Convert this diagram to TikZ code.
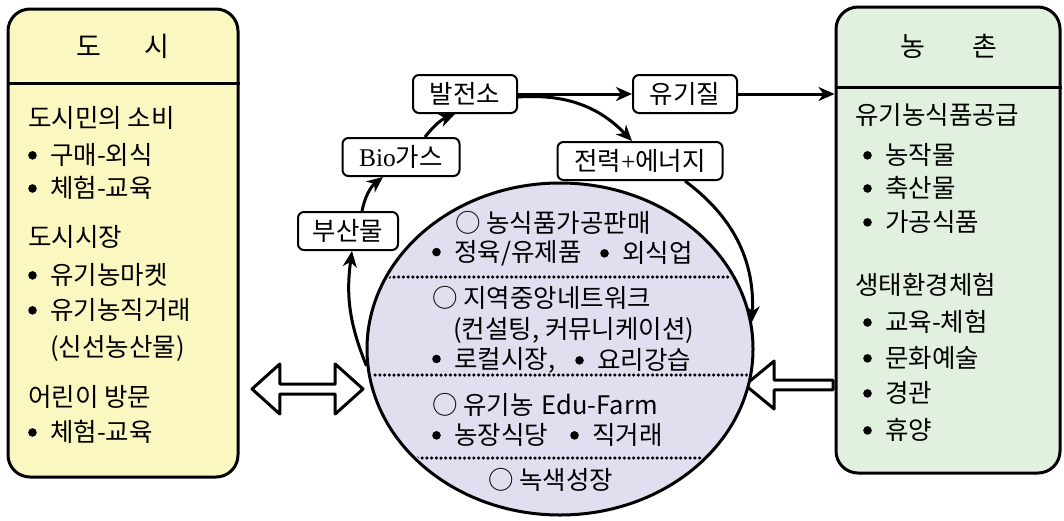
\documentclass[tikz,border=0pt]{standalone}
\usepackage{fontspec}
\setmainfont{Noto Sans CJK KR}
\newfontfamily\latin{Liberation Serif}
\usetikzlibrary{arrows.meta,shapes.geometric,shapes.arrows}

\definecolor{cityfill}{RGB}{250,247,192}
\definecolor{farmfill}{RGB}{226,241,223}
\definecolor{hubfill}{RGB}{223,223,240}
\newcommand\bodysize{\fontsize{25.5}{30}\selectfont}
\newcommand\headsize{\fontsize{27}{32}\selectfont}
\newcommand\dotitem{\makebox[22pt][l]{\tikz[baseline=-0.36em]\fill (0pt,0pt) circle (4.3pt);}}

\begin{document}
\begin{tikzpicture}[x=1pt,y=-1pt,font=\bodysize,
    panel/.style={draw,line width=3pt,rounded corners=22pt,inner sep=0pt},
    stepbox/.style={draw,line width=2pt,rounded corners=6pt,fill=white,
      minimum height=38pt,inner xsep=4pt,inner ysep=0pt},
    item/.style={anchor=west,inner sep=0pt},
    flow/.style={line width=3pt,-{Stealth[length=16pt,width=14pt,inset=5pt]}},
    hollow/.style={draw,line width=3pt,inner sep=0pt,line join=round},
    sep/.style={line width=3.5pt,dash pattern=on 0pt off 4.7pt,line cap=round}]
  \useasboundingbox (0,0) rectangle (1064,520);

  % city panel
  \node[panel,fill=cityfill,minimum width=230pt,minimum height=468pt] (city) at (123,243) {};
  \coordinate (cityline) at (0,83);
  \draw[line width=3pt] (city.west |- cityline) -- (city.east |- cityline);
  \node[font=\headsize] (cityhead) at (123,46) {도\hspace{44pt}시};
  \node[item] (c1) at (28,118) {도시민의 소비};
  \node[item] (c2) at (28,155) {\dotitem 구매-외식};
  \node[item] (c3) at (28,188) {\dotitem 체험-교육};
  \node[item] (c4) at (28,237) {도시시장};
  \node[item] (c5) at (28,275) {\dotitem 유기농마켓};
  \node[item] (c6) at (28,310) {\dotitem 유기농직거래};
  \node[item] (c7) at (50,348) {(신선농산물)};
  \node[item] (c8) at (28,397) {어린이 방문};
  \node[item] (c9) at (28,432) {\dotitem 체험-교육};

  % farm panel
  \node[single arrow,hollow,shape border rotate=180,minimum height=88pt,minimum width=48pt,
    single arrow head extend=6pt,single arrow tip angle=79] (feed) at (792,385) {};
  \node[panel,fill=farmfill,minimum width=224pt,minimum height=466pt] (farm) at (948,240) {};
  \coordinate (farmline) at (0,87);
  \draw[line width=3pt] (farm.west |- farmline) -- (farm.east |- farmline);
  \node[font=\headsize] (farmhead) at (949,46) {농\hspace{48pt}촌};
  \node[item] (f1) at (855,115) {유기농식품공급};
  \node[item] (f2) at (863,155) {\dotitem 농작물};
  \node[item] (f3) at (863,188) {\dotitem 축산물};
  \node[item] (f4) at (863,222) {\dotitem 가공식품};
  \node[item] (f5) at (855,285) {생태환경체험};
  \node[item] (f6) at (863,322) {\dotitem 교육-체험};
  \node[item] (f7) at (863,358) {\dotitem 문화예술};
  \node[item] (f8) at (863,393) {\dotitem 경관};
  \node[item] (f9) at (863,430) {\dotitem 휴양};

  % hub
  \node[ellipse,draw,line width=3pt,fill=hubfill,minimum width=386pt,minimum height=332pt,
    inner sep=0pt] (hub) at (560,349) {};
  \begin{scope}
    \clip (hub.center) ellipse [x radius=190pt, y radius=163pt];
    \foreach \yy in {277,375,458}
      \draw[sep] (300,\yy) -- (820,\yy);
  \end{scope}
  \node[item] (h1) at (455,223) {○ 농식품가공판매};
  \node[item] (h2) at (432,253) {\dotitem 정육/유제품};
  \node[item] (h3) at (600,253) {\dotitem 외식업};
  \node[item] (h4) at (432,298) {○ 지역중앙네트워크};
  \node[item] (h5) at (453,330) {(컨설팅, 커뮤니케이션)};
  \node[item] (h6) at (432,360) {\dotitem 로컬시장,};
  \node[item] (h7) at (575,360) {\dotitem 요리강습};
  \node[item] (h8) at (432,405) {○ 유기농\hspace{8pt}Edu-Farm};
  \node[item] (h9) at (432,435) {\dotitem 농장식당};
  \node[item] (h10) at (570,435) {\dotitem 직거래};
  \node[item] (h11) at (488,480) {○ 녹색성장};

  \node[double arrow,hollow,minimum height=111pt,minimum width=50pt,
    double arrow head extend=6pt,double arrow tip angle=84] (link) at (307.5,389) {};

  % energy chain
  \node[stepbox,minimum width=100pt] (byprod) at (348,231) {부산물};
  \node[stepbox,minimum width=117pt] (biogas) at (401,157) {{\latin Bio}가스};
  \node[stepbox,minimum width=104pt] (plant) at (465,94) {발전소};
  \node[stepbox,minimum width=104pt] (organic) at (685,94) {유기질};
  \node[stepbox,minimum width=165pt] (power) at (640,161) {전력{\latin +}에너지};

  \draw[flow] (hub.185) to[bend left=15] ([xshift=4pt]byprod.south);
  \draw[flow] ([xshift=14pt]byprod.north) to[bend left=20] ([xshift=-18pt]biogas.south);
  \draw[flow] ([xshift=24pt]biogas.north) to[bend left=15] ([xshift=-10pt]plant.south);
  \draw[flow] (plant) -- (organic);
  \draw[flow] (organic) -- (organic -| farm.west);
  \draw[flow] ([yshift=-3pt]plant.east) to[bend left=25] ([xshift=-8pt]power.north);
  \draw[flow] ([xshift=45pt]power.south) to[bend left=28] (hub.8);
\end{tikzpicture}
\end{document}
